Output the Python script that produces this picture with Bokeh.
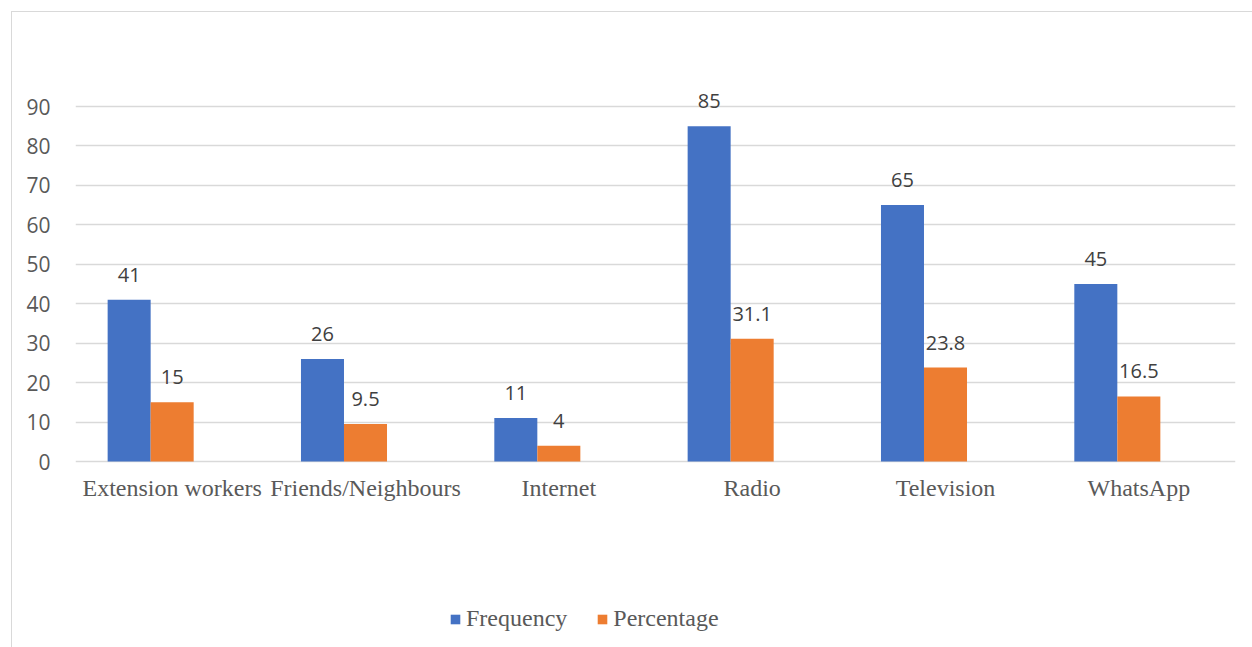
from bokeh.plotting import figure
from bokeh.models import ColumnDataSource, FactorRange, Range1d, Legend, LegendItem, FixedTicker
from bokeh.transform import dodge
from bokeh.core.properties import value
from bokeh.embed import file_html
from bokeh.resources import INLINE

categories = ["Extension workers", "Friends/Neighbours", "Internet", "Radio", "Television", "WhatsApp"]
frequency = [41, 26, 11, 85, 65, 45]
percentage = [15, 9.5, 4, 31.1, 23.8, 16.5]
y_ticks = [0, 10, 20, 30, 40, 50, 60, 70, 80, 90]

freq_labels = [str(v) for v in frequency]
pct_labels = [("%g" % v) for v in percentage]
zeros = [0] * len(categories)

BLUE = "#4472C4"
ORANGE = "#ED7D31"
BW = 0.2225

W, H = 1252, 647
Y0_PX, Y90_PX = 461, 106           # pixel rows of value 0 and value 90
ppu = (Y0_PX - Y90_PX) / 90.0      # pixels per unit
y_start = -(H - Y0_PX) / ppu
y_end = Y0_PX / ppu

src = ColumnDataSource(dict(cat=categories, freq=frequency, pct=percentage,
                            freq_lbl=freq_labels, pct_lbl=pct_labels, zero=zeros))

p = figure(width=W, height=H, x_range=FactorRange(*categories, range_padding=0),
           y_range=Range1d(y_start, y_end), output_backend="svg", toolbar_location=None,
           min_border_left=75, min_border_right=17, min_border_top=0, min_border_bottom=0)
p.outline_line_color = None
p.background_fill_color = None
p.border_fill_color = None
p.styles = {
    "background-color": "white",
    "background-image": "linear-gradient(#d9d9d9, #d9d9d9), linear-gradient(#d9d9d9, #d9d9d9)",
    "background-size": "100% 1px, 1px 100%",
    "background-position": "11px 11px, 11px 11px",
    "background-repeat": "no-repeat",
}

r1 = p.vbar(x=dodge("cat", -BW, range=p.x_range), top="freq", width=BW, source=src,
            fill_color=BLUE, line_color=None)
r2 = p.vbar(x=dodge("cat", 0, range=p.x_range), top="pct", width=BW, source=src,
            fill_color=ORANGE, line_color=None)

p.text(x=dodge("cat", -BW, range=p.x_range), y="freq", text="freq_lbl", source=src,
       text_align="center", text_baseline="alphabetic", y_offset=-25,
       text_font=value("Open Sans"), text_font_size="20px", text_color="#404040")
p.text(x=dodge("cat", 0, range=p.x_range), y="pct", text="pct_lbl", source=src,
       text_align="center", text_baseline="alphabetic", y_offset=-25,
       text_font=value("Open Sans"), text_font_size="20px", text_color="#404040")

# category labels below the baseline
p.text(x="cat", y="zero", text="cat", source=src, text_align="center",
       text_baseline="middle", y_offset=26,
       text_font=value("Liberation Serif"), text_font_size="24px", text_color="#595959")

p.xaxis.visible = False
p.xgrid.grid_line_color = None
p.ygrid.grid_line_color = "#d9d9d9"
p.ygrid.grid_line_width = 1.3
p.yaxis.ticker = FixedTicker(ticks=y_ticks)
p.yaxis.axis_line_color = None
p.yaxis.major_tick_line_color = None
p.yaxis.minor_tick_line_color = None
p.yaxis.major_label_text_font = "Open Sans"
p.yaxis.major_label_text_font_size = "21px"
p.yaxis.major_label_text_color = "#595959"
p.yaxis.major_label_standoff = 19

legend = Legend(items=[LegendItem(label="Frequency", renderers=[r1]),
                       LegendItem(label="Percentage", renderers=[r2])],
                orientation="horizontal", location=(374, 15),
                glyph_width=12, glyph_height=12, label_standoff=5, spacing=29,
                padding=0, margin=0, border_line_color=None, background_fill_alpha=0,
                label_text_font="Liberation Serif", label_text_font_size="24px",
                label_text_color="#595959")
p.add_layout(legend, "center")

open("out.html", "w").write(file_html(p, INLINE))
